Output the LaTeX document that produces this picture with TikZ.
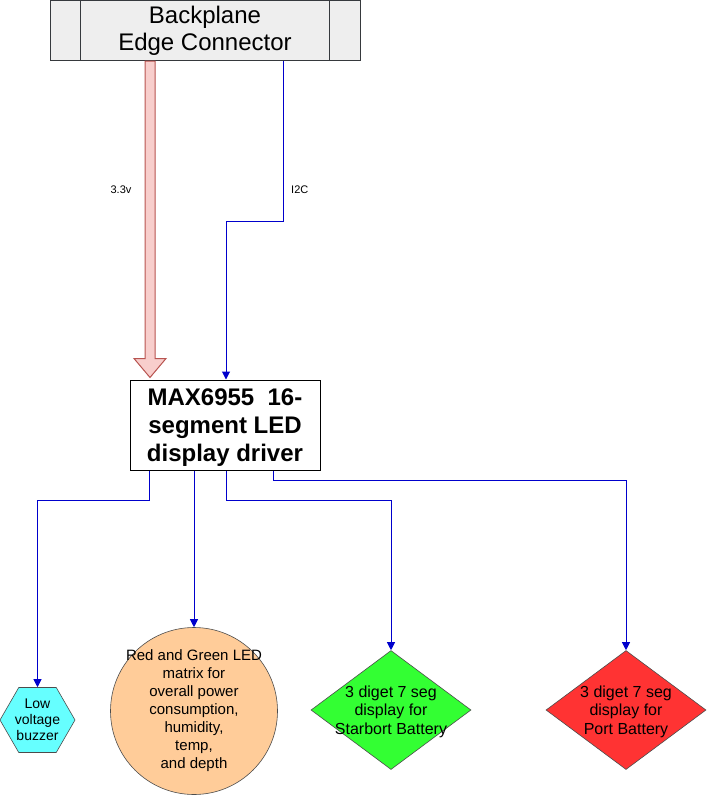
\documentclass[tikz,border=0pt]{standalone}
\usepackage{fontspec}
\setmainfont{Liberation Sans}
\usetikzlibrary{positioning,shapes.geometric,arrows.meta}
\definecolor{busblue}{HTML}{0000CC}
\definecolor{edgegray}{HTML}{EEEEEE}
\definecolor{edgeline}{HTML}{36393D}
\definecolor{pwrfill}{HTML}{F8CECC}
\definecolor{pwrline}{HTML}{B85450}
\definecolor{buzzcyan}{HTML}{66FFFF}
\definecolor{ledorange}{HTML}{FFCC99}
\definecolor{stbdgreen}{HTML}{33FF33}
\definecolor{portred}{HTML}{FF3333}
\begin{document}
\begin{tikzpicture}[x=1pt, y=-1pt,
		bus/.style = {draw=busblue, line width=1pt, -{Triangle[width=8pt,length=8pt]}},
		power/.style = {draw=pwrline, fill=pwrfill, line width=1pt},
		lbl/.style = {font=\fontsize{11}{13}\selectfont, inner sep=0pt},
		outshape/.style = {draw=black!70, line width=0.6pt, inner sep=-20pt, align=center}]
	\useasboundingbox (0,0) rectangle (707,795);
	% backplane connector
	\node[draw=edgeline, fill=edgegray, line width=1pt, minimum width=310, minimum height=60,
		align=center, font=\fontsize{24}{27}\selectfont] (bp) at (205,30.5) {Backplane\\Edge Connector};
	\draw[edgeline, line width=1pt] ([xshift=31pt]bp.north west) -- ([xshift=31pt]bp.south west);
	\draw[edgeline, line width=1pt] ([xshift=-31pt]bp.north east) -- ([xshift=-31pt]bp.south east);
	% driver
	\node[draw=black, line width=1pt, minimum width=190, minimum height=90, align=center, text depth=0pt,
		font=\fontsize{24}{28}\selectfont\bfseries] (max) at (225,425) {MAX6955\ \ 16-\\segment LED\\display driver};
	% outputs
	\node[outshape, regular polygon, regular polygon sides=6, minimum size=75, fill=buzzcyan,
		font=\fontsize{14}{16}\selectfont] (buzz) at (37.5,720) {Low\\voltage\\buzzer};
	\node[outshape, circle, minimum size=167, fill=ledorange,
		font=\fontsize{15}{18}\selectfont] (led) at (194,711)
		{Red and Green LED\\matrix for\\overall power\\consumption,\\humidity,\\temp,\\and depth};
	\node[outshape, diamond, minimum width=160, minimum height=119, fill=stbdgreen, text depth=0pt,
		font=\fontsize{16}{18.5}\selectfont] (stbd) at (391,710) {3 diget 7 seg\\display for\\Starbort Battery};
	\node[outshape, diamond, minimum width=160, minimum height=119, fill=portred, text depth=0pt,
		font=\fontsize{16}{18.5}\selectfont] (port) at (626,710) {3 diget 7 seg\\display for\\Port Battery};
	% 3.3v supply
	\draw[power] ([xshift=-60pt]bp.south) -- ([xshift=-50pt]bp.south)
		-- ([xshift=-70pt,yshift=21pt]max.north) -- ([xshift=-59pt,yshift=21pt]max.north)
		-- ([xshift=-75pt,yshift=2pt]max.north) -- ([xshift=-91pt,yshift=21pt]max.north)
		-- ([xshift=-80pt,yshift=21pt]max.north) -- cycle;
	\node[lbl] (vlbl) at (121,190) {3.3v};
	% i2c
	\draw[bus] ([xshift=78pt]bp.south) -- ++(0,160) -| ([xshift=1pt]max.north);
	\node[lbl, anchor=west] (i2c) at (291,190) {I2C};
	% driver to outputs
	\draw[bus] ([xshift=-76pt]max.south) -- ++(0,30) -| (buzz.north);
	\draw[bus] ([xshift=-31pt]max.south) -- (led.north);
	\draw[bus] ([xshift=1pt]max.south) -- ++(0,30) -| (stbd.north);
	\draw[bus] ([xshift=48pt]max.south) -- ++(0,10) -| (port.north);
\end{tikzpicture}
\end{document}
